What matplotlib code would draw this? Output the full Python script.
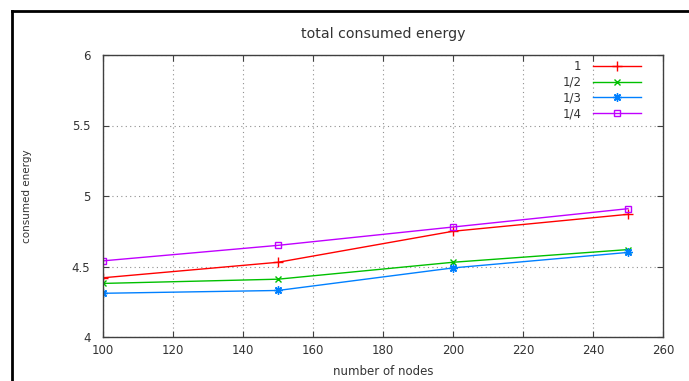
import matplotlib
matplotlib.use("Agg")
import matplotlib.pyplot as plt
from matplotlib.lines import Line2D

nodes = [100, 150, 200, 250]
energy_1 = [4.42, 4.53, 4.75, 4.87]
energy_1_2 = [4.38, 4.41, 4.53, 4.62]
energy_1_3 = [4.31, 4.33, 4.49, 4.60]
energy_1_4 = [4.54, 4.65, 4.78, 4.91]
labels = ["1", "1/2", "1/3", "1/4"]

txt = "#333333"
plt.rcParams["font.family"] = "DejaVu Sans"
plt.rcParams["font.size"] = 8.5

fig = plt.figure(figsize=(6.89, 3.81), dpi=100)
ax = fig.add_axes([103 / 689, 1 - 337 / 381, 560 / 689, 282 / 381])

ax.plot(nodes, energy_1, color="#ff0000", lw=1, marker="+", ms=7, label=labels[0])
ax.plot(nodes, energy_1_2, color="#00c000", lw=1, marker="x", ms=5, label=labels[1])
ax.plot(nodes, energy_1_3, color="#0080ff", lw=1, marker=(8, 2, 0), ms=6, label=labels[2])
ax.plot(nodes, energy_1_4, color="#c000ff", lw=1, marker="s", ms=5,
        mfc="none", label=labels[3])

ax.set_xlim(100, 260)
ax.set_ylim(4, 6)
ax.set_xticks(range(100, 261, 20))
ax.set_yticks([4, 4.5, 5, 5.5, 6])
ax.set_yticklabels(["4", "4.5", "5", "5.5", "6"])
ax.grid(True, linestyle=(0, (1, 3)), color="#909090", lw=0.8)
ax.tick_params(direction="in", length=4, top=True, right=True, colors="#404040",
               labelcolor=txt)
ax.tick_params(axis="x", pad=5)
ax.tick_params(axis="y", pad=9)
for s in ax.spines.values():
    s.set_color("#404040")
    s.set_linewidth(1)

ax.set_title("total consumed energy", color=txt, pad=12)
ax.set_xlabel("number of nodes", color=txt, labelpad=6)
ax.set_ylabel("consumed energy", color=txt, fontsize=7.5, labelpad=29)

leg = ax.legend(loc="upper right", bbox_to_anchor=(0.97, 1.0), frameon=False,
                markerfirst=False, handlelength=4.1, handletextpad=1.0,
                labelspacing=0.25, borderaxespad=0.0)
for t in leg.get_texts():
    t.set_color(txt)

# black frame lines from the screenshot
fig.add_artist(Line2D([12 / 689, 1], [1 - 11 / 381, 1 - 11 / 381], color="black", lw=2))
fig.add_artist(Line2D([12 / 689, 12 / 689], [0, 1 - 11 / 381], color="black", lw=2))

fig.savefig("out.png", dpi=100)
